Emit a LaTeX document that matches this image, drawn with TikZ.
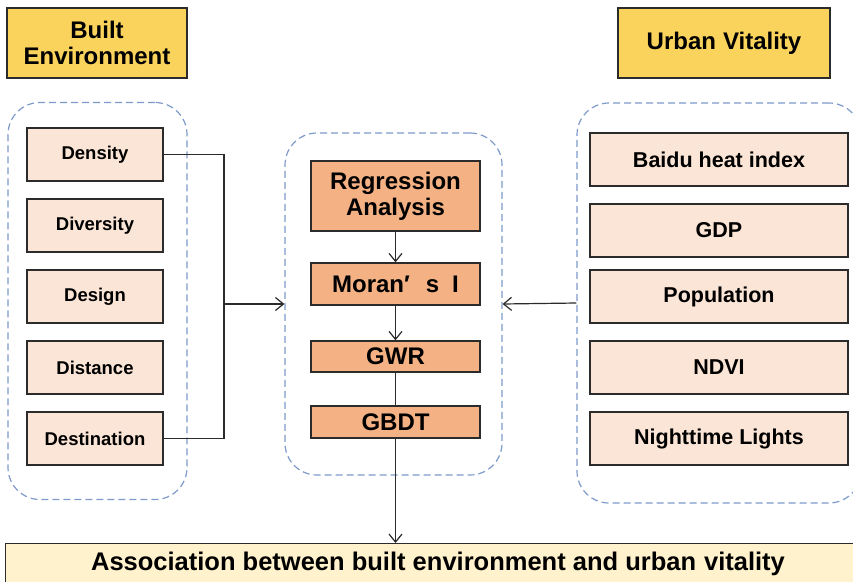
\documentclass[tikz,border=0pt]{standalone}
\usepackage{fontspec}
\setmainfont{Liberation Sans}
\usetikzlibrary{arrows.meta}
\definecolor{gold}{HTML}{FAD35C}
\definecolor{peach}{HTML}{FBE5D6}
\definecolor{orng}{HTML}{F4B183}
\definecolor{cream}{HTML}{FFF2CC}
\definecolor{dashblue}{HTML}{7F9BCB}
\definecolor{edge}{HTML}{2B2B2B}
\tikzset{
  header/.style={draw=edge, line width=1.4pt, fill=gold, align=center, inner sep=0pt,
     font=\fontsize{24}{28}\selectfont\bfseries},
  lbox/.style={draw=edge, line width=1.4pt, fill=peach, inner sep=0pt,
     minimum width=136pt, minimum height=53pt, font=\fontsize{18.5}{22}\selectfont\bfseries},
  rbox/.style={draw=edge, line width=1.4pt, fill=peach, inner sep=0pt,
     minimum width=258pt, minimum height=53pt, font=\fontsize{21.5}{25}\selectfont\bfseries},
  cbox/.style={draw=edge, line width=1.4pt, fill=orng, inner sep=0pt, align=center,
     minimum width=169pt, font=\fontsize{24}{28}\selectfont\bfseries},
  container/.style={draw=dashblue, line width=1.2pt, dash pattern=on 7pt off 4pt,
     rounded corners=32pt, inner sep=0pt},
  conn/.style={draw=edge, line width=1.2pt},
  arr/.style={conn, -{Straight Barb[length=8pt, width=13pt, line width=1.2pt]}},
}
\begin{document}
\begin{tikzpicture}[x=1pt, y=-1pt]
\useasboundingbox (0,0) rectangle (853,581);
\clip (0,0) rectangle (853,581);
\fill[white] (0,0) rectangle (853,581);

% containers
\node[container, minimum width=179pt, minimum height=397pt] (lc) at (97.5,301) {};
\node[container, minimum width=217pt, minimum height=342pt] (cc) at (393.5,304) {};
\node[container, minimum width=284pt, minimum height=400pt] (rc) at (719,303) {};

% headers
\node[header, minimum width=180pt, minimum height=70pt] (be) at (97,43) {Built\\[-2pt]Environment};
\node[header, minimum width=212pt, minimum height=70pt] (uv) at (724,43) {Urban\hspace{7pt}Vitality};

% left boxes
\node[lbox] (den) at (95,154.5) {Density};
\node[lbox] (div) at (95,225.5) {Diversity};
\node[lbox] (des) at (95,296.5) {Design};
\node[lbox] (dis) at (95,367.5) {Distance};
\node[lbox] (dst) at (95,438.5) {Destination};

% right boxes
\node[rbox] (bdh) at (719,159.5) {Baidu heat index};
\node[rbox] (gdp) at (719,230.5) {GDP};
\node[rbox] (pop) at (719,296.5) {Population};
\node[rbox] (ndvi) at (719,367.5) {NDVI};
\node[rbox] (ntl) at (719,438.5) {Nighttime Lights};

% center boxes
\node[cbox, minimum height=70pt] (reg) at (395.5,196) {Regression\\[-2pt]Analysis};
\node[cbox, minimum height=42pt] (mor) at (395.5,284) {Moran′\hspace{16pt}s\hspace{13pt}I};
\node[cbox, minimum height=31pt] (gwr) at (395.5,356.5) {GWR};
\node[cbox, minimum height=32pt] (gbdt) at (395.5,422) {GBDT};

% bottom box
\node[draw=edge, line width=1.4pt, fill=cream, minimum width=860pt, minimum height=60pt,
  anchor=north west, inner sep=0pt] (out) at (5,543) {};
\node[font=\fontsize{25.5}{28}\selectfont\bfseries] (outtxt) at (438,564)
  {Association between built environment and urban\hspace{8pt}vitality};

% connectors
\coordinate (jn) at (224,304);
\draw[conn] (den.east) -- (den.east -| jn) -- (dst.east -| jn) -- (dst.east);
\draw[arr] (jn) -- (cc.west);
\draw[arr] (rc.west) -- (cc.east);
\draw[arr] (reg.south) -- (mor.north);
\draw[arr] (mor.south) -- (gwr.north);
\draw[conn] (gwr.south) -- (gbdt.north);
\draw[arr] (gbdt.south) -- (gbdt.south |- out.north);
\end{tikzpicture}
\end{document}
